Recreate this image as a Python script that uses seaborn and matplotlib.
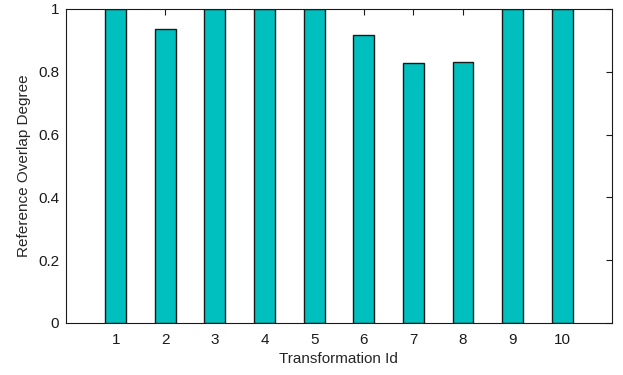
import matplotlib
matplotlib.use("Agg")
import matplotlib.pyplot as plt
import pandas as pd
import seaborn as sns

# values
transformation_ids = [1, 2, 3, 4, 5, 6, 7, 8, 9, 10]
overlap_degree = [1.0, 0.935, 1.0, 1.0, 1.0, 0.916, 0.828, 0.832, 1.0, 1.0]

df = pd.DataFrame({"id": transformation_ids, "overlap": overlap_degree})

sns.set_style("white")
plt.rcParams["font.family"] = ["Liberation Sans", "DejaVu Sans"]

fig = plt.figure(figsize=(6.23, 3.75), dpi=100)
ax = fig.add_axes([0.106, 0.139, 0.876, 0.837])

sns.barplot(data=df, x="id", y="overlap", native_scale=True, width=0.42,
            color="#00BFBF", saturation=1, edgecolor="#1a1a1a", linewidth=1,
            ax=ax)

ax.set_xlim(0, 11)
ax.set_ylim(0, 1)
ax.set_xticks(transformation_ids)
ax.set_xticklabels([str(i) for i in transformation_ids])
ax.set_yticks([0, 0.2, 0.4, 0.6, 0.8, 1])
ax.set_yticklabels(["0", "0.2", "0.4", "0.6", "0.8", "1"])
ax.tick_params(direction="in", top=True, right=True, length=4, width=0.8,
               labelsize=11, colors="#1a1a1a", pad=5)
ax.tick_params(axis="x", pad=7)
for s in ax.spines.values():
    s.set_visible(True)
    s.set_color("#1a1a1a")
    s.set_linewidth(0.8)

ax.set_xlabel("Transformation Id", fontsize=11, labelpad=4)
ax.set_ylabel("Reference Overlap Degree", fontsize=11, labelpad=5)

fig.savefig("out.png", dpi=100)
